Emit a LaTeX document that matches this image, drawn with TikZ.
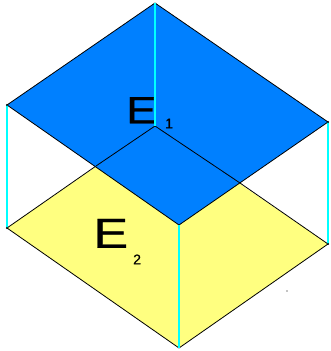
\documentclass[tikz,border=0pt]{standalone}
\usepackage{fontspec}
\setmainfont{Liberation Sans}
\newfontfamily\heavyfont[FakeBold=0.6]{Liberation Sans}
\definecolor{topblue}{HTML}{0080FF}
\definecolor{lowyellow}{HTML}{FFFF80}
\definecolor{edgecyan}{HTML}{00FFFF}
\tikzset{
  edge/.style={draw=black,line width=0.8pt,line join=round},
  riser/.style={draw=edgecyan,line width=1.5pt},
  biglabel/.style={inner sep=0pt,anchor=south west,font=\heavyfont\fontsize{38}{38}\selectfont},
  smalllabel/.style={inner sep=0pt,anchor=south west,font=\heavyfont\fontsize{14}{14}\selectfont}
}
\begin{document}
\begin{tikzpicture}[x=1pt,y=-1pt]
\useasboundingbox (0,0) rectangle (330,351);
\coordinate (ut) at (155,3);
\coordinate (ul) at (7,105);
\coordinate (ur) at (328,122);
\coordinate (ub) at (179,225);
\coordinate (lt) at (155,126);
\coordinate (ll) at (7,228);
\coordinate (lr) at (328,244);
\coordinate (lb) at (179,348);
\coordinate (hl) at (96,166);
\coordinate (hr) at (240,183);
% lower plane, then upper plane over it
\path[fill=lowyellow] (lt) -- (lr) -- (lb) -- (ll) -- cycle;
\draw[edge] (hl) -- (ll) -- (lb) -- (lr) -- (hr);
\path[fill=topblue] (ut) -- (ur) -- (ub) -- (ul) -- cycle;
\draw[edge] (ut) -- (ur) -- (ub) -- (ul) -- cycle;
\draw[edge] (hl) -- (lt) -- (hr);
% labels
\node[biglabel] (e1) at (126,123.5) {\scalebox{1.2}[1]{E}};
\node[smalllabel] (s1) at (165,128.5) {1};
\node[biglabel,font=\heavyfont\fontsize{42}{42}\selectfont] (e2) at (93,248) {\scalebox{1.25}[1]{E}};
\node[smalllabel] (s2) at (133,264.5) {2};
% vertical risers
\draw[riser] (ut) -- (lt);
\draw[riser] (ul) -- (ll);
\draw[riser] (ur) -- (lr);
\draw[riser] (ub) -- (lb);
% corner dots
\foreach \c in {ul,ur,ll,lr}{\fill (\c) circle (1.2pt);}
\fill (287,291) circle (0.6pt);
\end{tikzpicture}
\end{document}
